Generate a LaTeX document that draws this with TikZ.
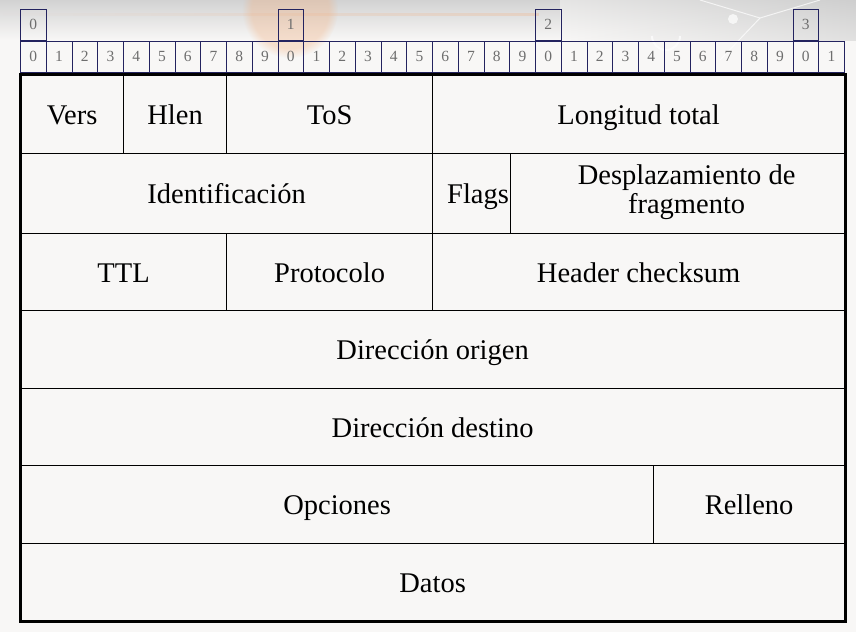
\documentclass[tikz,border=0pt]{standalone}
\usepackage{fontspec}
\setmainfont{Liberation Serif}
\usetikzlibrary{fadings}
\definecolor{paper}{HTML}{F8F7F6}
\definecolor{bitline}{HTML}{23235F}
\definecolor{bitnum}{HTML}{6E6E6E}
\definecolor{glow}{HTML}{F2B080}
\begin{document}
\begin{tikzpicture}[x=1pt,y=-1pt,
  bitcell/.style={draw=bitline, line width=0.9pt, minimum width=25.75pt, minimum height=31pt,
    inner sep=0pt, anchor=north west, text=bitnum, font=\fontsize{15.5}{15.5}\selectfont,
    text height=10pt, text depth=0pt},
  field/.style={draw=black, line width=1.2pt, inner sep=0pt, anchor=north west,
    font=\fontsize{28.5}{31}\selectfont, text height=20pt, text depth=0pt},
  fieldtext/.style={inner sep=0pt, font=\fontsize{28.5}{29}\selectfont}]
\useasboundingbox (0,0) rectangle (856,632);
% page background and the faded banner along the top
\fill[paper] (0,0) rectangle (856,632);
\shade[top color=gray!35, bottom color=paper] (0,0) rectangle (856,40);
\fill[glow, opacity=0.35, path fading=circle with fuzzy edge 20 percent] (290,10) circle (48);
\fill[glow, opacity=0.3, path fading=west] (0,13) rectangle (540,16);
\shade[left color=paper, right color=gray!40, opacity=0.5] (560,0) rectangle (856,40);
\draw[white, line width=1pt, opacity=0.7] (700,0) -- (760,18) -- (820,0);
\draw[white, line width=1pt, opacity=0.7] (760,18) -- (720,60);
\fill[white, opacity=0.7] (733,19) circle (5);
\draw[white, line width=2pt, opacity=0.7] (652,36) arc (180:0:14);

% bit index row: 32 cells, decade markers above bits 0, 10, 20, 30
\foreach \i in {0,...,31}{
  \pgfmathtruncatemacro{\d}{mod(\i,10)}
  \node[bitcell] (b\i) at ({20+25.75*\i},40.5) {\d};
}
\foreach \i/\n in {0/0,10/1,20/2,30/3}{
  \node[bitcell, anchor=south west] (d\n) at (b\i.north west) {\n};
}

% header fields, one row per 32-bit word
\node[field, minimum width=103pt, minimum height=79pt] (vers) at (20,74) {Vers};
\node[field, minimum width=103pt, minimum height=79pt] (hlen) at (123,74) {Hlen};
\node[field, minimum width=206pt, minimum height=79pt] (tos) at (226,74) {ToS};
\node[field, minimum width=412pt, minimum height=79pt] (len) at (432,74) {Longitud total};

\node[field, minimum width=412pt, minimum height=80pt] (ident) at (20,153) {Identificación};
\node[field, minimum width=78pt, minimum height=80pt] (flags) at (432,153) {};
\node[fieldtext, anchor=base west] (flagstxt) at ([xshift=15pt, yshift=-10pt]flags.west) {Flags};
\node[field, minimum width=334pt, minimum height=80pt] (frag) at (510,153) {};
\node[fieldtext, align=center] (fragtxt) at ([xshift=9pt, yshift=1pt]frag.center) {Desplazamiento de\\fragmento};

\node[field, minimum width=206pt, minimum height=77pt] (ttl) at (20,233) {TTL};
\node[field, minimum width=206pt, minimum height=77pt] (proto) at (226,233) {Protocolo};
\node[field, minimum width=412pt, minimum height=77pt] (cksum) at (432,233) {Header checksum};

\node[field, minimum width=824pt, minimum height=78pt] (src) at (20,310) {Dirección origen};
\node[field, minimum width=824pt, minimum height=77pt] (dst) at (20,388) {Dirección destino};

\node[field, minimum width=633pt, minimum height=78pt] (opts) at (20,465) {Opciones};
\node[field, minimum width=191pt, minimum height=78pt] (pad) at (653,465) {Relleno};

\node[field, minimum width=824pt, minimum height=77pt] (data) at (20,543) {Datos};

% heavy outline round the whole header
\draw[black, line width=3pt] (vers.north west) rectangle (data.south east);
\end{tikzpicture}
\end{document}
